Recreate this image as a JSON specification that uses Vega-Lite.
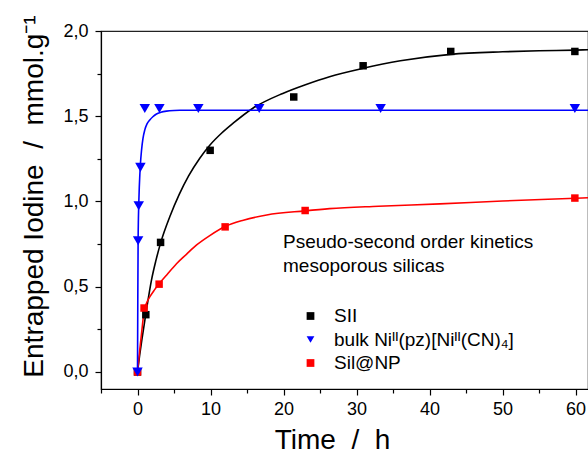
{
  "$schema": "https://vega.github.io/schema/vega-lite/v6.json",
  "width": 487,
  "height": 358,
  "autosize": "none",
  "padding": {"left": 101, "top": 31, "right": 0, "bottom": 62},
  "background": "white",
  "config": {
    "font": "Liberation Sans",
    "view": {"stroke": "#222222", "strokeWidth": 1.2},
    "legend": {
      "orient": "none",
      "legendX": 182,
      "legendY": 202,
      "padding": 0,
      "titleFont": "Liberation Sans",
      "titleFontSize": 19,
      "titleFontWeight": "normal",
      "titleColor": "black",
      "titleLineHeight": 23.5,
      "titlePadding": 31,
      "titleLimit": 400,
      "labelFont": "Liberation Sans",
      "labelFontSize": 19,
      "labelColor": "black",
      "labelLimit": 400,
      "labelOffset": 14,
      "symbolOffset": 18,
      "rowPadding": 3.5,
      "symbolSize": 60,
      "symbolStrokeWidth": 0
    }
  },
  "datasets": {
    "points": [
      {"series": "SII", "t": 0, "v": 0},
      {"series": "SII", "t": 1.14, "v": 0.336},
      {"series": "SII", "t": 3.16, "v": 0.76},
      {"series": "SII", "t": 9.95, "v": 1.30},
      {"series": "SII", "t": 21.4, "v": 1.613},
      {"series": "SII", "t": 30.9, "v": 1.796},
      {"series": "SII", "t": 42.9, "v": 1.880},
      {"series": "SII", "t": 59.9, "v": 1.880},
      {"series": "Sil@NP", "t": 0, "v": 0},
      {"series": "Sil@NP", "t": 0.9, "v": 0.375},
      {"series": "Sil@NP", "t": 2.96, "v": 0.515},
      {"series": "Sil@NP", "t": 12.0, "v": 0.851},
      {"series": "Sil@NP", "t": 22.96, "v": 0.947},
      {"series": "Sil@NP", "t": 59.9, "v": 1.02},
      {"series": "bulk Niᴵᴵ(pz)[Niᴵᴵ(CN)₄]", "t": 0, "v": 0},
      {"series": "bulk Niᴵᴵ(pz)[Niᴵᴵ(CN)₄]", "t": 0.083, "v": 0.77},
      {"series": "bulk Niᴵᴵ(pz)[Niᴵᴵ(CN)₄]", "t": 0.167, "v": 0.975},
      {"series": "bulk Niᴵᴵ(pz)[Niᴵᴵ(CN)₄]", "t": 0.4, "v": 1.2},
      {"series": "bulk Niᴵᴵ(pz)[Niᴵᴵ(CN)₄]", "t": 1.0, "v": 1.545},
      {"series": "bulk Niᴵᴵ(pz)[Niᴵᴵ(CN)₄]", "t": 3.0, "v": 1.545},
      {"series": "bulk Niᴵᴵ(pz)[Niᴵᴵ(CN)₄]", "t": 8.33, "v": 1.545},
      {"series": "bulk Niᴵᴵ(pz)[Niᴵᴵ(CN)₄]", "t": 16.67, "v": 1.545},
      {"series": "bulk Niᴵᴵ(pz)[Niᴵᴵ(CN)₄]", "t": 33.3, "v": 1.545},
      {"series": "bulk Niᴵᴵ(pz)[Niᴵᴵ(CN)₄]", "t": 59.9, "v": 1.545}
    ],
    "curves": [
      {"series": "SII", "t": 0, "v": 0},
      {"series": "SII", "t": 0.3, "v": 0.10},
      {"series": "SII", "t": 0.6, "v": 0.19},
      {"series": "SII", "t": 1.23, "v": 0.365},
      {"series": "SII", "t": 1.92, "v": 0.54},
      {"series": "SII", "t": 2.5, "v": 0.65},
      {"series": "SII", "t": 3.19, "v": 0.76},
      {"series": "SII", "t": 4.42, "v": 0.91},
      {"series": "SII", "t": 5.7, "v": 1.04},
      {"series": "SII", "t": 7.0, "v": 1.15},
      {"series": "SII", "t": 8.53, "v": 1.254},
      {"series": "SII", "t": 9.9, "v": 1.33},
      {"series": "SII", "t": 11.5, "v": 1.40},
      {"series": "SII", "t": 13.1, "v": 1.459},
      {"series": "SII", "t": 15.8, "v": 1.547},
      {"series": "SII", "t": 19.9, "v": 1.634},
      {"series": "SII", "t": 23.0, "v": 1.685},
      {"series": "SII", "t": 26.3, "v": 1.732},
      {"series": "SII", "t": 30.9, "v": 1.781},
      {"series": "SII", "t": 36.0, "v": 1.825},
      {"series": "SII", "t": 42.9, "v": 1.863},
      {"series": "SII", "t": 50.0, "v": 1.878},
      {"series": "SII", "t": 55.0, "v": 1.884},
      {"series": "SII", "t": 60.0, "v": 1.888},
      {"series": "SII", "t": 61.7, "v": 1.890},
      {"series": "Sil@NP", "t": 0, "v": 0},
      {"series": "Sil@NP", "t": 0.3, "v": 0.125},
      {"series": "Sil@NP", "t": 0.6, "v": 0.245},
      {"series": "Sil@NP", "t": 0.9, "v": 0.355},
      {"series": "Sil@NP", "t": 1.3, "v": 0.41},
      {"series": "Sil@NP", "t": 1.68, "v": 0.44},
      {"series": "Sil@NP", "t": 2.3, "v": 0.48},
      {"series": "Sil@NP", "t": 2.96, "v": 0.517},
      {"series": "Sil@NP", "t": 4.0, "v": 0.569},
      {"series": "Sil@NP", "t": 5.34, "v": 0.635},
      {"series": "Sil@NP", "t": 6.7, "v": 0.69},
      {"series": "Sil@NP", "t": 8.1, "v": 0.745},
      {"series": "Sil@NP", "t": 9.9, "v": 0.80},
      {"series": "Sil@NP", "t": 12.0, "v": 0.853},
      {"series": "Sil@NP", "t": 14.5, "v": 0.89},
      {"series": "Sil@NP", "t": 17.7, "v": 0.921},
      {"series": "Sil@NP", "t": 22.9, "v": 0.945},
      {"series": "Sil@NP", "t": 26.3, "v": 0.958},
      {"series": "Sil@NP", "t": 33.0, "v": 0.972},
      {"series": "Sil@NP", "t": 41.4, "v": 0.986},
      {"series": "Sil@NP", "t": 50.0, "v": 1.003},
      {"series": "Sil@NP", "t": 60.0, "v": 1.019},
      {"series": "Sil@NP", "t": 61.7, "v": 1.022},
      {"series": "bulk Niᴵᴵ(pz)[Niᴵᴵ(CN)₄]", "t": 0, "v": 0},
      {"series": "bulk Niᴵᴵ(pz)[Niᴵᴵ(CN)₄]", "t": 0.04, "v": 0.42},
      {"series": "bulk Niᴵᴵ(pz)[Niᴵᴵ(CN)₄]", "t": 0.083, "v": 0.77},
      {"series": "bulk Niᴵᴵ(pz)[Niᴵᴵ(CN)₄]", "t": 0.125, "v": 0.9},
      {"series": "bulk Niᴵᴵ(pz)[Niᴵᴵ(CN)₄]", "t": 0.167, "v": 0.98},
      {"series": "bulk Niᴵᴵ(pz)[Niᴵᴵ(CN)₄]", "t": 0.25, "v": 1.09},
      {"series": "bulk Niᴵᴵ(pz)[Niᴵᴵ(CN)₄]", "t": 0.4, "v": 1.22},
      {"series": "bulk Niᴵᴵ(pz)[Niᴵᴵ(CN)₄]", "t": 0.55, "v": 1.30},
      {"series": "bulk Niᴵᴵ(pz)[Niᴵᴵ(CN)₄]", "t": 0.75, "v": 1.37},
      {"series": "bulk Niᴵᴵ(pz)[Niᴵᴵ(CN)₄]", "t": 1.0, "v": 1.42},
      {"series": "bulk Niᴵᴵ(pz)[Niᴵᴵ(CN)₄]", "t": 1.3, "v": 1.455},
      {"series": "bulk Niᴵᴵ(pz)[Niᴵᴵ(CN)₄]", "t": 1.68, "v": 1.478},
      {"series": "bulk Niᴵᴵ(pz)[Niᴵᴵ(CN)₄]", "t": 2.1, "v": 1.497},
      {"series": "bulk Niᴵᴵ(pz)[Niᴵᴵ(CN)₄]", "t": 2.6, "v": 1.513},
      {"series": "bulk Niᴵᴵ(pz)[Niᴵᴵ(CN)₄]", "t": 3.2, "v": 1.523},
      {"series": "bulk Niᴵᴵ(pz)[Niᴵᴵ(CN)₄]", "t": 3.97, "v": 1.53},
      {"series": "bulk Niᴵᴵ(pz)[Niᴵᴵ(CN)₄]", "t": 5.0, "v": 1.534},
      {"series": "bulk Niᴵᴵ(pz)[Niᴵᴵ(CN)₄]", "t": 5.8, "v": 1.535},
      {"series": "bulk Niᴵᴵ(pz)[Niᴵᴵ(CN)₄]", "t": 61.7, "v": 1.535}
    ]
  },
  "encoding": {
    "x": {
      "field": "t",
      "type": "quantitative",
      "scale": {"domain": [-5, 61.7], "nice": false, "zero": false},
      "axis": {
        "title": "Time \u00a0/\u00a0 h",
        "titleFont": "Liberation Sans",
        "titleFontSize": 28,
        "titleFontWeight": "normal",
        "titleColor": "black",
        "titlePadding": 8,
        "titleX": 231,
        "values": [-5, 0, 5, 10, 15, 20, 25, 30, 35, 40, 45, 50, 55, 60],
        "labelExpr": "datum.value % 10 === 0 ? datum.label : ''",
        "labelFont": "Liberation Sans",
        "labelFontSize": 18,
        "labelColor": "black",
        "labelPadding": 5,
        "labelFlush": false,
        "labelOverlap": false,
        "grid": false,
        "domainColor": "black",
        "domainWidth": 1.2,
        "tickColor": "black",
        "tickWidth": 1.2,
        "tickSize": {"condition": {"test": "datum.value % 10 === 0", "value": 6}, "value": 4}
      }
    },
    "y": {
      "field": "v",
      "type": "quantitative",
      "scale": {"domain": [-0.1, 2.0], "nice": false, "zero": false},
      "axis": {
        "title": "Entrapped Iodine \u00a0/\u00a0 mmol.g⁻¹",
        "titleFont": "Liberation Sans",
        "titleFontSize": 28,
        "titleFontWeight": "normal",
        "titleColor": "black",
        "titlePadding": 14,
        "titleY": 165,
        "values": [0, 0.25, 0.5, 0.75, 1.0, 1.25, 1.5, 1.75, 2.0],
        "labelExpr": "abs(datum.value * 2 - round(datum.value * 2)) < 0.001 ? replace(format(datum.value, '.1f'), '.', ',') : ''",
        "labelFont": "Liberation Sans",
        "labelFontSize": 18,
        "labelColor": "black",
        "labelPadding": 7,
        "labelFlush": false,
        "labelOverlap": false,
        "grid": false,
        "domainColor": "black",
        "domainWidth": 1.2,
        "tickColor": "black",
        "tickWidth": 1.2,
        "tickSize": {"condition": {"test": "abs(datum.value * 2 - round(datum.value * 2)) < 0.001", "value": 6}, "value": 4}
      }
    },
    "color": {
      "field": "series",
      "type": "nominal",
      "scale": {"domain": ["SII", "bulk Niᴵᴵ(pz)[Niᴵᴵ(CN)₄]", "Sil@NP"], "range": ["#000000", "#0000ff", "#ff0000"]},
      "legend": {"title": ["Pseudo-second order kinetics", "mesoporous silicas"]}
    },
    "shape": {
      "field": "series",
      "type": "nominal",
      "scale": {"domain": ["SII", "bulk Niᴵᴵ(pz)[Niᴵᴵ(CN)₄]", "Sil@NP"], "range": ["square", "triangle-down", "square"]},
      "legend": {"title": ["Pseudo-second order kinetics", "mesoporous silicas"]}
    }
  },
  "layer": [
    {
      "data": {"name": "curves"},
      "mark": {"type": "line", "strokeWidth": 1.6, "interpolate": "monotone", "clip": true},
      "encoding": {"shape": null}
    },
    {
      "data": {"name": "points"},
      "transform": [{"filter": "datum.series !== 'bulk Niᴵᴵ(pz)[Niᴵᴵ(CN)₄]'"}],
      "mark": {"type": "point", "filled": true, "opacity": 1, "strokeWidth": 0, "size": 56}
    },
    {
      "data": {"name": "points"},
      "transform": [{"filter": "datum.series === 'bulk Niᴵᴵ(pz)[Niᴵᴵ(CN)₄]'"}],
      "mark": {"type": "point", "filled": true, "opacity": 1, "strokeWidth": 0, "size": 110}
    }
  ]
}
